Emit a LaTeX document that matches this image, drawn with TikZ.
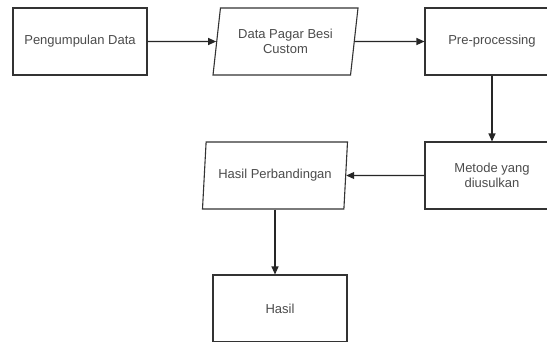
\documentclass[tikz,border=0pt]{standalone}
\usepackage{fontspec}
\setmainfont{Liberation Sans}
\usetikzlibrary{arrows.meta,shapes.geometric}

\begin{document}
\begin{tikzpicture}[x=1pt, y=-1pt,
  kotak/.style={draw=black!80, line width=1.1pt, minimum width=134pt, minimum height=67pt,
    text=black!70, align=center, font=\fontsize{13}{15.5}\selectfont, inner sep=0pt},
  jajar/.style={kotak, trapezium, trapezium left angle=73.4, trapezium right angle=106.6,
    trapezium stretches body, minimum width=145pt},
  panah/.style={draw=black!85, line width=1.1pt, -{Triangle[length=8pt,width=7pt]}}]
  \useasboundingbox (0,0) rectangle (547,341);
  \clip (0,0) rectangle (547,341);
  \fill[white] (0,0) rectangle (547,341);
  \node[kotak] (kumpul) at (80,41.5) {Pengumpulan Data};
  \node[jajar] (data) at (285.5,41.5) {Data Pagar Besi\\Custom};
  \node[kotak] (pre) at (492,41.5) {Pre-processing};
  \node[kotak] (metode) at (492,175.5) {Metode yang\\diusulkan};
  \node[jajar] (banding) at (275,175.5) {Hasil Perbandingan};
  \node[kotak] (hasil) at (280,308.5) {Hasil};
  \path
  (kumpul) edge[panah] (data)
  (data) edge[panah] (pre)
  (pre) edge[panah] (metode)
  (metode) edge[panah] (banding)
  (banding.south) edge[panah] (banding.south |- hasil.north)
  ;
\end{tikzpicture}
\end{document}
